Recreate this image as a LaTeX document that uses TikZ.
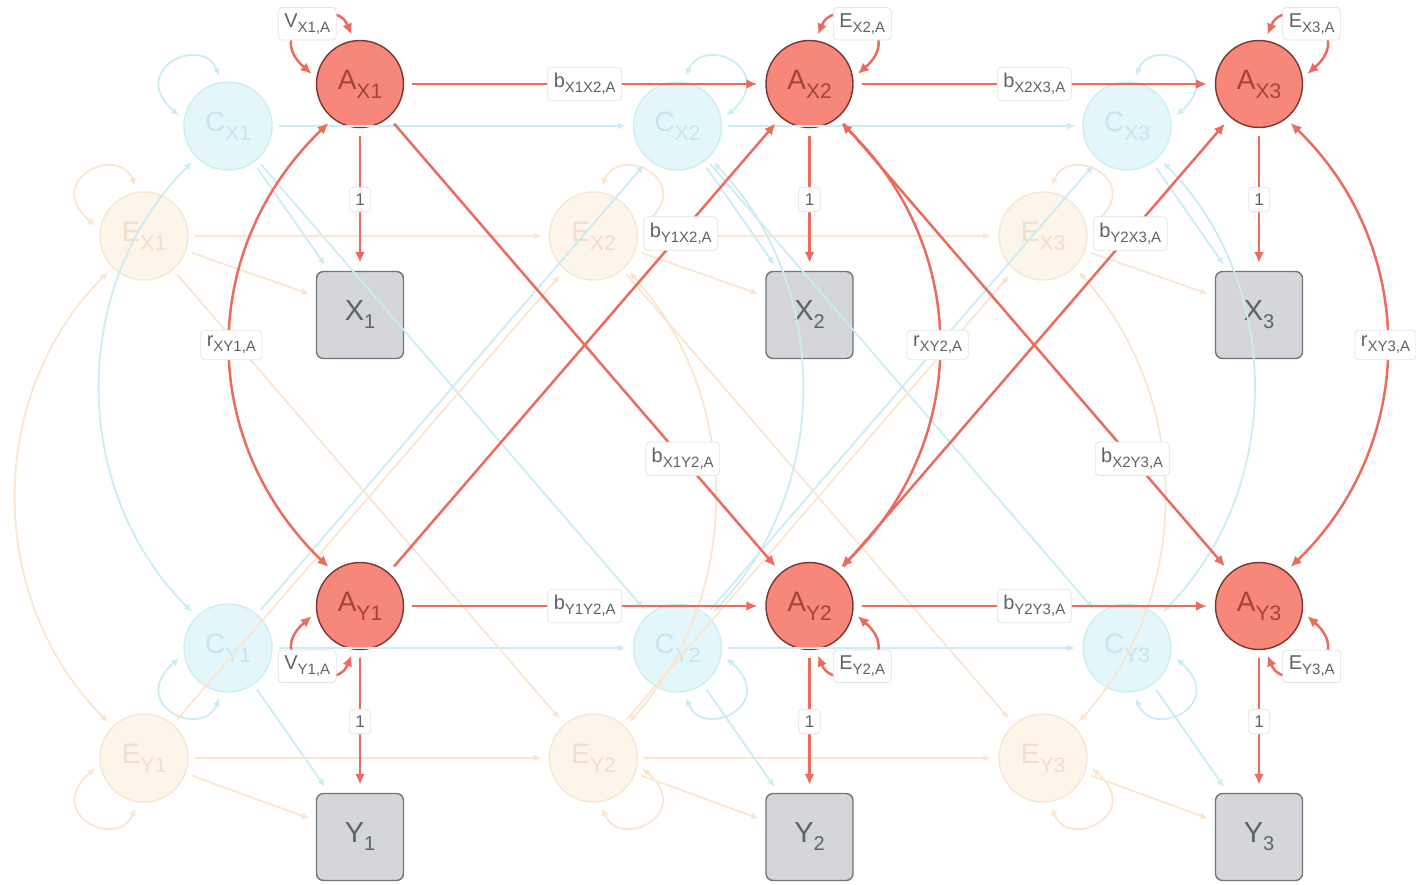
\documentclass[tikz,border=0pt]{standalone}
\usepackage{fontspec}
\setmainfont{Liberation Sans}
\usetikzlibrary{arrows.meta}
\definecolor{redfill}{HTML}{F7877A}
\definecolor{redborder}{HTML}{7A3530}
\definecolor{redtext}{HTML}{A3443B}
\definecolor{redline}{HTML}{EC6B5D}
\definecolor{boxfill}{HTML}{D4D6D9}
\definecolor{boxborder}{HTML}{70757A}
\definecolor{boxtext}{HTML}{5F6368}
\definecolor{labtext}{HTML}{5F6368}
\definecolor{labborder}{HTML}{E4E4E4}
\definecolor{cfill}{HTML}{E3F6FA}
\definecolor{cborder}{HTML}{CCEEF4}
\definecolor{ctext}{HTML}{C6E6EC}
\definecolor{cline}{HTML}{CAEDF3}
\definecolor{efill}{HTML}{FDF4EA}
\definecolor{eborder}{HTML}{F8E6D1}
\definecolor{etext}{HTML}{F0DFCB}
\definecolor{eline}{HTML}{FAE6D0}
\newcommand{\nlab}[2]{#1\raisebox{-9pt}{\fontsize{21}{21}\selectfont #2}}
\newcommand{\olab}[2]{#1\raisebox{-8pt}{\fontsize{20}{20}\selectfont #2}}
\newcommand{\elab}[2]{#1\raisebox{-5pt}{\fontsize{15}{15}\selectfont #2}}
\tikzset{
  anode/.style={circle, minimum size=87pt, inner sep=0pt, fill=redfill, draw=redborder, line width=1.4pt, text=redtext, font=\fontsize{28}{28}\selectfont},
  cnode/.style={circle, minimum size=88pt, inner sep=0pt, fill=cfill, draw=cborder, line width=1.4pt, text=ctext, font=\fontsize{28}{28}\selectfont},
  enode/.style={circle, minimum size=88pt, inner sep=0pt, fill=efill, draw=eborder, line width=1.4pt, text=etext, font=\fontsize{28}{28}\selectfont},
  obs/.style={rectangle, rounded corners=7pt, minimum width=87pt, minimum height=87pt, inner sep=0pt, fill=boxfill, draw=boxborder, line width=1.4pt, text=boxtext, font=\fontsize{29}{29}\selectfont},
  lab/.style={fill=white, draw=labborder, line width=0.8pt, rounded corners=4pt, inner xsep=6pt, inner ysep=6pt, text=labtext, font=\fontsize{20}{20}\selectfont},
  one/.style={lab, font=\fontsize{17}{17}\selectfont, inner xsep=6pt, inner ysep=6.5pt},
  redge/.style={draw=redline, line width=2.5pt, -{Latex[length=11pt,width=10pt]}, shorten >=8pt, shorten <=8pt},
  rdbl/.style={draw=redline, line width=2.5pt, {Latex[length=11pt,width=10pt]}-{Latex[length=11pt,width=10pt]}, shorten >=6pt, shorten <=6pt},
  cedge/.style={draw=cline, line width=1.8pt, -{Latex[length=8pt,width=7pt]}, shorten >=7pt, shorten <=6pt},
  cdbl/.style={draw=cline, line width=1.8pt, {Latex[length=8pt,width=7pt]}-{Latex[length=8pt,width=7pt]}, shorten >=6pt, shorten <=6pt},
  eedge/.style={draw=eline, line width=1.8pt, -{Latex[length=8pt,width=7pt]}, shorten >=7pt, shorten <=6pt},
  edbl/.style={draw=eline, line width=1.8pt, {Latex[length=8pt,width=7pt]}-{Latex[length=8pt,width=7pt]}, shorten >=6pt, shorten <=6pt}
}
\begin{document}
\begin{tikzpicture}[x=1pt,y=1pt]
\useasboundingbox (0,0) rectangle (1416,-884);
% faint nodes
\foreach \i/\x in {1/360,2/809.5,3/1259} {
  \node[enode] (EX\i) at (\x-216,-236) {\nlab{E}{X\i}};
  \node[enode] (EY\i) at (\x-216,-758) {\nlab{E}{Y\i}};
  \node[cnode] (CX\i) at (\x-132,-126) {\nlab{C}{X\i}};
  \node[cnode] (CY\i) at (\x-132,-648) {\nlab{C}{Y\i}};
}
% observed and A nodes
\foreach \i/\x in {1/360,2/809.5,3/1259} {
  \node[obs] (X\i) at (\x,-315) {\olab{X}{\i}};
  \node[obs] (Y\i) at (\x,-837) {\olab{Y}{\i}};
  \node[anode] (AX\i) at (\x,-84) {\nlab{A}{X\i}};
  \node[anode] (AY\i) at (\x,-606) {\nlab{A}{Y\i}};
}
% faint self loops
\foreach \n in {CX1} {\draw[cdbl] (\n.98) .. controls +(112.4:52) and +(138.9:76) .. (\n.172);}
\foreach \n in {EX1} {\draw[edbl] (\n.98) .. controls +(112.4:52) and +(138.9:76) .. (\n.172);}
\foreach \n in {CX2,CX3} {\draw[cdbl] (\n.82) .. controls +(67.6:52) and +(41.1:76) .. (\n.8);}
\foreach \n in {EX2,EX3} {\draw[edbl] (\n.82) .. controls +(67.6:52) and +(41.1:76) .. (\n.8);}
\foreach \n in {CY1} {\draw[cdbl] (\n.262) .. controls +(-112.4:52) and +(-138.9:76) .. (\n.188);}
\foreach \n in {EY1} {\draw[edbl] (\n.262) .. controls +(-112.4:52) and +(-138.9:76) .. (\n.188);}
\foreach \n in {CY2,CY3} {\draw[cdbl] (\n.278) .. controls +(-67.6:52) and +(-41.1:76) .. (\n.352);}
\foreach \n in {EY2,EY3} {\draw[edbl] (\n.278) .. controls +(-67.6:52) and +(-41.1:76) .. (\n.352);}
% faint paths
\foreach \i/\j in {1/2,2/3} {
  \draw[cedge] (CX\i) -- (CX\j);
  \draw[cedge] (CY\i) -- (CY\j);
  \draw[cedge] (CX\i) -- (CY\j);
  \draw[cedge] (CY\i) -- (CX\j);
  \draw[eedge] (EX\i) -- (EX\j);
  \draw[eedge] (EY\i) -- (EY\j);
  \draw[eedge] (EX\i) -- (EY\j);
  \draw[eedge] (EY\i) -- (EX\j);
}
\foreach \i in {1,2,3} {
  \draw[cedge] (CX\i) -- (X\i.125);
  \draw[eedge] (EX\i) -- (X\i.157);
  \draw[cedge] (CY\i) -- (Y\i.125);
  \draw[eedge] (EY\i) -- (Y\i.160);
}
% faint correlations
\draw[cdbl] (CX1.225) .. controls +(225:180) and +(135:180) .. (CY1.135);
\draw[edbl] (EX1.225) .. controls +(225:180) and +(135:180) .. (EY1.135);
\draw[cdbl] (CX2.315) .. controls +(313.6:178) and +(46.4:178) .. (CY2.45);
\draw[edbl] (EX2.315) .. controls +(312.3:176) and +(47.7:176) .. (EY2.45);
\draw[cdbl] (CX3.315) .. controls +(314.5:179) and +(45.5:179) .. (CY3.45);
\draw[edbl] (EX3.315) .. controls +(312.3:176) and +(47.7:176) .. (EY3.45);
% red structural paths
\draw[redge] (AX1) -- (AX2) node[lab,pos=.5] {\elab{b}{X1X2,A}};
\draw[redge] (AX2) -- (AX3) node[lab,pos=.5] {\elab{b}{X2X3,A}};
\draw[redge] (AY1) -- (AY2) node[lab,pos=.5] {\elab{b}{Y1Y2,A}};
\draw[redge] (AY2) -- (AY3) node[lab,pos=.5] {\elab{b}{Y2Y3,A}};
\draw[redge] (AY1) -- (AX2) node[lab,pos=.745] {\elab{b}{Y1X2,A}};
\draw[redge] (AX1) -- (AY2) node[lab,pos=.75] {\elab{b}{X1Y2,A}};
\draw[redge] (AY2) -- (AX3) node[lab,pos=.745] {\elab{b}{Y2X3,A}};
\draw[redge] (AX2) -- (AY3) node[lab,pos=.75] {\elab{b}{X2Y3,A}};
\foreach \i in {1,2,3} {
  \draw[redge] (AX\i) -- (X\i) node[one,pos=.5] {1};
  \draw[redge] (AY\i) -- (Y\i) node[one,pos=.5] {1};
}
% red correlations
\draw[rdbl] (AX1.232) .. controls +(224:188) and +(136:188) .. (AY1.128) node[lab,pos=.5] {\elab{r}{XY1,A}};
\draw[rdbl] (AX2.308) .. controls +(316:187) and +(44:187) .. (AY2.52) node[lab,pos=.5] {\elab{r}{XY2,A}};
\draw[rdbl] (AX3.308) .. controls +(316:184) and +(44:184) .. (AY3.52) node[lab,pos=.5] {\elab{r}{XY3,A}};
% red variances
\draw[rdbl] (AX1.98) .. controls +(112.4:50) and +(138.9:73) .. (AX1.172) node[lab,pos=.5] {\elab{V}{X1,A}};
\draw[rdbl] (AX2.82) .. controls +(67.6:50) and +(41.1:73) .. (AX2.8) node[lab,pos=.5] {\elab{E}{X2,A}};
\draw[rdbl] (AX3.82) .. controls +(67.6:50) and +(41.1:73) .. (AX3.8) node[lab,pos=.5] {\elab{E}{X3,A}};
\draw[rdbl] (AY1.262) .. controls +(-112.4:50) and +(-138.9:73) .. (AY1.188) node[lab,pos=.5] {\elab{V}{Y1,A}};
\draw[rdbl] (AY2.278) .. controls +(-67.6:50) and +(-41.1:73) .. (AY2.352) node[lab,pos=.5] {\elab{E}{Y2,A}};
\draw[rdbl] (AY3.278) .. controls +(-67.6:50) and +(-41.1:73) .. (AY3.352) node[lab,pos=.5] {\elab{E}{Y3,A}};
\end{tikzpicture}
\end{document}
